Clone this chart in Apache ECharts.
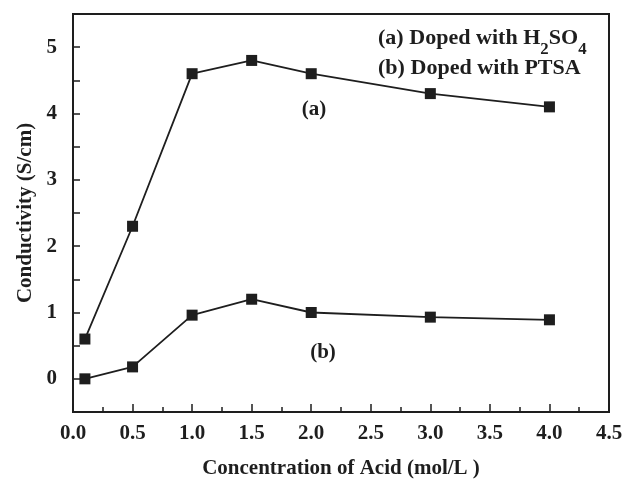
<!DOCTYPE html>
<html>
<head>
<meta charset="utf-8">
<script src="https://cdn.jsdelivr.net/npm/echarts@6/dist/echarts.min.js"></script>
<style>html,body{margin:0;padding:0;background:#fff}#c{width:625px;height:482px}</style>
</head>
<body>
<div id="c"></div>
<script>
var concentrations = [0.1, 0.5, 1.0, 1.5, 2.0, 3.0, 4.0];
var seriesA = [0.6, 2.3, 4.6, 4.8, 4.6, 4.3, 4.1];
var seriesB = [0.0, 0.18, 0.96, 1.2, 1.0, 0.93, 0.89];

function pairs(xs, ys) { return xs.map(function (x, i) { return [x, ys[i]]; }); }

var FONT = '"Liberation Serif", "Times New Roman", serif';
var INK = '#1e1e1e';
var chart = echarts.init(document.getElementById('c'));
var axisLine = { show: true, onZero: false, lineStyle: { color: INK, width: 2 } };
function txt(extra) {
  return Object.assign({ fontFamily: FONT, fontWeight: 'bold', fontSize: 21, fill: INK }, extra);
}
chart.setOption({
  animation: false,
  backgroundColor: '#fff',
  grid: { left: 73, right: 16, top: 14, bottom: 70, show: true, borderColor: INK, borderWidth: 2,
    containLabel: false, outerBoundsMode: 'none' },
  xAxis: {
    type: 'value', min: 0, max: 4.5, interval: 0.5,
    axisLine: axisLine,
    axisTick: { show: true, inside: true, length: 8, lineStyle: { color: INK, width: 1.5 } },
    minorTick: { show: true, splitNumber: 2, length: 5, lineStyle: { color: INK, width: 1.5 } },
    splitLine: { show: false },
    axisLabel: { fontFamily: FONT, fontWeight: 'bold', fontSize: 21, color: INK, margin: 11,
      formatter: function (v) { return v.toFixed(1); } },
    name: 'Concentration of Acid (mol/L )', nameLocation: 'middle', nameGap: 46,
    nameTextStyle: { fontFamily: FONT, fontWeight: 'bold', fontSize: 21, color: INK }
  },
  yAxis: {
    type: 'value', min: -0.5, max: 5.5, interval: 0.5,
    axisLine: axisLine,
    axisTick: { show: true, inside: true, length: 7, lineStyle: { color: INK, width: 1.5 } },
    splitLine: { show: false },
    axisLabel: { fontFamily: FONT, fontWeight: 'bold', fontSize: 21, color: INK, margin: 16,
      formatter: function (v) { return Math.abs(v - Math.round(v)) < 1e-9 ? String(Math.round(v)) : ''; } },
    name: 'Conductivity (S/cm)', nameLocation: 'middle', nameGap: 30,
    nameTextStyle: { fontFamily: FONT, fontWeight: 'bold', fontSize: 21, color: INK }
  },
  series: [
    { type: 'line', data: pairs(concentrations, seriesA), symbol: 'rect', symbolSize: 11,
      lineStyle: { color: INK, width: 1.8 }, itemStyle: { color: INK } },
    { type: 'line', data: pairs(concentrations, seriesB), symbol: 'rect', symbolSize: 11,
      lineStyle: { color: INK, width: 1.8 }, itemStyle: { color: INK } }
  ],
  graphic: [
    { type: 'text', x: 378, y: 36, scaleX: 1.05, style: {
      text: '{m|(a) Doped with H}{s|2}{m|SO}{s|4}', verticalAlign: 'middle',
      rich: { m: { fontFamily: FONT, fontWeight: 'bold', fontSize: 21, fill: INK, lineHeight: 26, verticalAlign: 'bottom' },
              s: { fontFamily: FONT, fontWeight: 'bold', fontSize: 16, fill: INK, lineHeight: 26, verticalAlign: 'bottom', padding: [0, 0, -9, 0] } } } },
    { type: 'text', x: 378, y: 69, scaleX: 1.05, style: txt({ text: '(b) Doped with PTSA', verticalAlign: 'middle' }) },
    { type: 'text', x: 314, y: 110, style: txt({ text: '(a)', align: 'center', verticalAlign: 'middle' }) },
    { type: 'text', x: 323, y: 353, style: txt({ text: '(b)', align: 'center', verticalAlign: 'middle' }) }
  ]
});
</script>
</body>
</html>
